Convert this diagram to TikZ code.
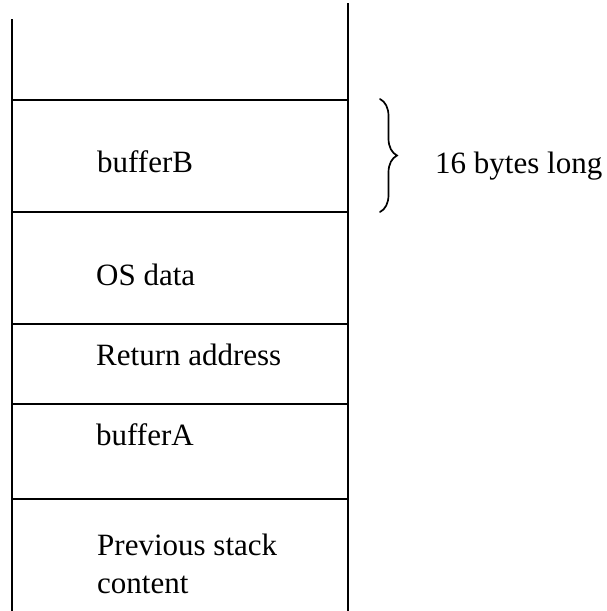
\documentclass[tikz,border=0pt]{standalone}
\usepackage{fontspec}
\setmainfont{Liberation Serif}
\usetikzlibrary{decorations.pathreplacing}
\begin{document}
\begin{tikzpicture}[x=1pt,y=-1pt,
  wall/.style={line width=1.8pt, line cap=butt},
  divider/.style={line width=1.8pt},
  cell/.style={anchor=base west, inner sep=0pt, font=\fontsize{31}{38}\selectfont, align=left},
  sizebrace/.style={line width=1.7pt, line cap=round, decorate, decoration={brace, amplitude=17pt}}]
  \useasboundingbox (0,0) rectangle (607,611);

  % stack walls
  \coordinate (lt) at (12,19);
  \coordinate (lb) at (12,611);
  \coordinate (rt) at (348,3);
  \coordinate (rb) at (348,611);
  \draw[wall] (lt) -- (lb);
  \draw[wall] (rt) -- (rb);

  % frame boundaries
  \foreach \y/\n in {100/a, 212/b, 324/c, 404/d, 499/e} {
    \coordinate (d\n l) at (12,\y);
    \coordinate (d\n r) at (348,\y);
    \draw[divider] (d\n l) -- (d\n r);
  }

  % cell contents (a multi-line node sits on its last baseline)
  \node[cell] (bufB) at (97,172) {bufferB};
  \node[cell] (osdata) at (96,285) {OS data};
  \node[cell] (ret) at (96,365) {Return address};
  \node[cell] (bufA) at (96,445) {bufferA};
  \node[cell] (prev) at (97,593) {Previous stack\\content};

  % size annotation
  \coordinate (bt) at (380,99);
  \coordinate (bb) at (380,212);
  \draw[sizebrace] (bt) -- (bb);
  \node[cell] (len) at (435,173) {16 bytes long};
\end{tikzpicture}
\end{document}
